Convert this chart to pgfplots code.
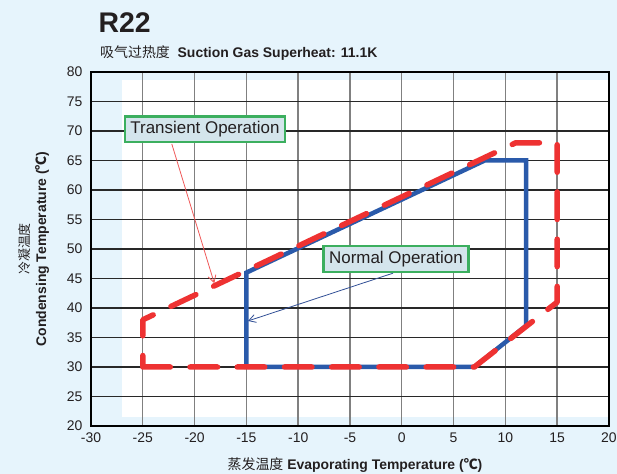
\documentclass[border=0pt]{standalone}
\usepackage{pgfplots}
\pgfplotsset{compat=1.18}
\usepackage{fontspec}
\setmainfont{Liberation Sans}
\newfontfamily\cjk{Noto Sans CJK SC}
\usetikzlibrary{arrows.meta}
\definecolor{bgblue}{RGB}{230,244,252}
\definecolor{blueline}{RGB}{42,90,170}
\definecolor{redline}{RGB}{238,50,50}
\definecolor{boxgreen}{RGB}{60,175,95}
\definecolor{boxfill}{RGB}{212,229,236}
\definecolor{arrowred}{RGB}{240,90,90}
\definecolor{arrowblue}{RGB}{50,80,150}
\definecolor{txt}{RGB}{35,31,32}
\begin{document}
\begin{tikzpicture}
\fill[bgblue] (0bp,0bp) rectangle (617bp,474bp);
\fill[white] (122bp,57bp) rectangle (609bp,394bp);
\begin{axis}[
  at={(91bp,48bp)}, anchor=south west,
  scale only axis, width=518bp, height=354bp,
  xmin=-30, xmax=20, ymin=20, ymax=80,
  xtick={-30,-25,-20,-15,-10,-5,0,5,10,15,20},
  xticklabels={-30,-25,-20,-15,-10,-5,0,5,10,15,20},
  ytick={20,25,30,35,40,45,50,55,60,65,70,75,80},
  yticklabels={20,25,30,35,40,45,50,55,60,65,70,75,80},
  grid=major,
  major x grid style={draw={rgb,255:red,128;green,128;blue,128}, line width=1.4bp},
  major y grid style={draw={rgb,255:red,40;green,40;blue,40}, line width=1.1bp},
  axis line style={black, line width=1.5bp},
  tick style={draw=none},
  ticklabel style={font=\fontsize{14}{16}\selectfont, text=txt},
  xticklabel style={yshift=-3bp},
  yticklabel style={xshift=-5bp},
  clip=false,
]
\addplot[blueline, line width=4.5bp, line join=miter] coordinates {
  (-15,30) (-15,46) (8,65) (12,65) (12,37) (7,30) (-15,30)
} -- cycle;
\addplot[redline, line width=5.5bp, line cap=round, line join=round, dash pattern=on 27.5bp off 19.72bp] coordinates {
  (-25,30) (7,30) (15,41) (15,68) (11,68) (-25,38) (-25,30)
};
\draw[arrowred, line width=0.8bp, -{Straight Barb[length=7bp,width=8bp]}] (axis cs:-22.2,67.8) -- (axis cs:-18.1,44.2);
\draw[arrowblue, line width=0.8bp, -{Straight Barb[length=7bp,width=8bp]}] (axis cs:-0.85,45.9) -- (axis cs:-14.85,37.8);
\node[draw=boxgreen, line width=2.5bp, fill=boxfill, inner xsep=5.5bp, inner ysep=5bp, font=\fontsize{17}{19}\selectfont, text=txt] at (axis cs:-19,70.3) {Transient Operation};
\node[draw=boxgreen, line width=2.5bp, fill=boxfill, inner xsep=5.5bp, inner ysep=5bp, font=\fontsize{17}{19}\selectfont, text=txt] at (axis cs:-0.56,48.3) {Normal Operation};
\end{axis}
\node[anchor=base west, font=\fontsize{28.5}{30}\selectfont\bfseries, text=txt] at (95bp,441bp) {R22};
\node[anchor=base west, font=\fontsize{14}{16}\selectfont, text=txt, inner sep=0pt] at (100bp,416bp) {{\cjk 吸气过热度}\ \ \textbf{Suction Gas Superheat: 11.1K}};
\node[anchor=base, font=\fontsize{14}{16}\selectfont, text=txt, inner sep=0pt] at (355bp,5bp) {{\cjk 蒸发温度} \textbf{Evaporating Temperature ({\cjk ℃})}};
\node[rotate=90, font=\fontsize{13}{15}\selectfont, text=txt, inner sep=0pt] at (25bp,225bp) {{\cjk 冷凝温度}};
\node[rotate=90, font=\fontsize{14}{16}\selectfont\bfseries, text=txt, inner sep=0pt] at (42bp,225bp) {Condensing Temperature ({\cjk ℃})};
\pgfresetboundingbox
\useasboundingbox (0bp,0bp) rectangle (617bp,474bp);
\end{tikzpicture}
\end{document}
